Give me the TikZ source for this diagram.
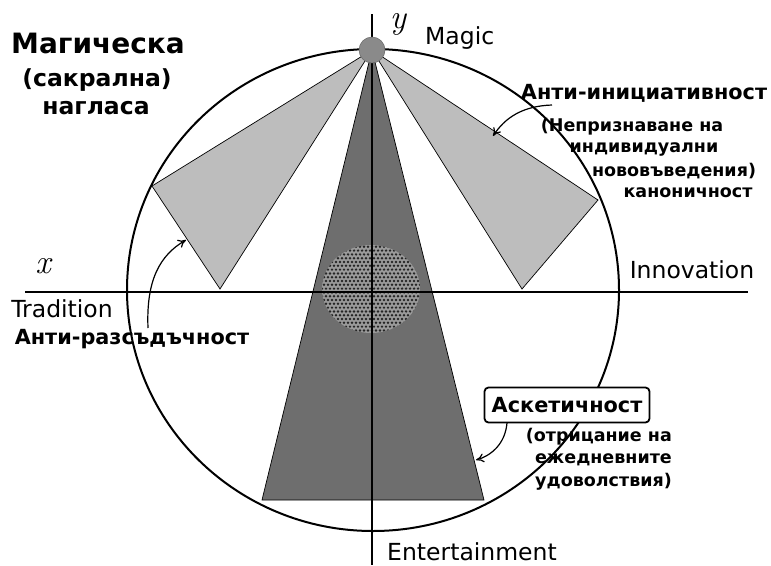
\documentclass[tikz,border=0pt]{standalone}
\usepackage{fontspec}
\setmainfont{DejaVu Sans}
\newfontfamily\lmfont{Latin Modern Roman}
\usetikzlibrary{arrows.meta}
\definecolor{darkg}{HTML}{6E6E6E}
\definecolor{lightg}{HTML}{BDBDBD}
\definecolor{dotg}{HTML}{8A8A8A}
\definecolor{coreg}{HTML}{9A9A9A}
\begin{document}
\begin{tikzpicture}[x=1pt,y=-1pt,
  reg/.style={inner sep=0pt, font=\fontsize{23.5}{27}\selectfont},
  bld/.style={inner sep=0pt, font=\fontsize{17.5}{20}\selectfont\bfseries},
  bldbig/.style={inner sep=0pt, font=\fontsize{20.8}{24}\selectfont\bfseries},
  ttlbig/.style={inner sep=0pt, font=\fontsize{28}{32}\selectfont\bfseries},
  ttl/.style={inner sep=0pt, font=\fontsize{23.5}{27}\selectfont\bfseries},
  tri/.style={draw=black, line width=0.7pt},
  axisline/.style={line width=2.6pt},
  arr/.style={-{To[length=8pt,width=9pt]}, line width=1.2pt},
  varlab/.style={inner sep=0pt, font=\lmfont\itshape\fontsize{34}{38}\selectfont}]
\useasboundingbox (0,0) rectangle (771,565);
\fill[white] (0,0) rectangle (771,565);
% key points
\coordinate (A) at (372,50);
\coordinate (L1) at (152,186);
\coordinate (L2) at (220,289);
\coordinate (R1) at (598,200);
\coordinate (R2) at (522,289);
\coordinate (D1) at (262,500);
\coordinate (D2) at (484,500);
\coordinate (O) at (373,290);
% triangles
\draw[tri, fill=lightg] (A) -- (L1) -- (L2) -- cycle;
\draw[tri, fill=lightg] (A) -- (R1) -- (R2) -- cycle;
\draw[tri, fill=darkg] (A) -- (D1) -- (D2) -- cycle;
% dotted core
\begin{scope}
  \clip (371,289) ellipse [x radius=49, y radius=44];
  \fill[coreg] (320,243) rectangle (422,335);
  \foreach \r in {0,...,24} {
    \foreach \c in {0,...,26} {
      \fill[black!85] ({318+\c*4+mod(\r,2)*2},{243+\r*3.8}) circle [radius=1.35];
    }
  }
\end{scope}
% big circle
\draw[line width=2pt] (O) ellipse [x radius=246, y radius=241];
% axes
\coordinate (xl) at (25,292);
\coordinate (xr) at (748,292);
\coordinate (yt) at (372,14);
\coordinate (yb) at (372,565);
\draw[axisline] (xl) -- (xr);
\draw[axisline] (yt) -- (yb);
% apex dot
\fill[dotg, draw=black!60, line width=0.5pt] (A) circle [radius=13];
% title
\node[ttlbig] (t1) at (98,43) {Магическа};
\node[ttl] (t2) at (97,80) {(сакрална)};
\node[ttl] (t3) at (96,108) {нагласа};
% axis labels
\node[varlab] (ylab) at (398,24) {y};
\node[varlab] (xlab) at (43,266) {x};
\node[reg, anchor=west] (magic) at (425,38) {Magic};
\node[reg] (innov) at (692,270) {Innovation};
\node[reg] (trad) at (62,309) {Tradition};
\node[reg] (ent) at (472,552) {Entertainment};
% right upper labels
\node[bldbig] (ai) at (644,93) {Анти-инициативност};
\node[bld] (nep) at (632,127) {(Непризнаване на};
\node[bld] (ind) at (644,149) {индивидуални};
\node[bld] (nov) at (674,171) {нововъведения)};
\node[bld] (kan) at (688,193) {каноничност};
% left lower label
\node[bldbig] (ar) at (132,339) {Анти-разсъдъчност};
% asceticism
\node[bldbig, draw=black, line width=1.8pt, fill=white, rounded corners=4pt,
      minimum width=165pt, minimum height=35pt] (ask) at (567,405) {Аскетичност};
\node[bld, anchor=east] (otr) at (672,437) {(отрицание на};
\node[bld, anchor=east] (ezh) at (672,460) {ежедневните};
\node[bld, anchor=east] (udo) at (672,482) {удоволствия)};
% arrows
\coordinate (sR) at (552,105);
\coordinate (tR) at (493,136);
\coordinate (sL) at (148,328);
\coordinate (tL) at (186,240);
\coordinate (sD) at (507,423);
\coordinate (tD) at (476,460);
\draw[arr] (sR) .. controls (522,106) and (505,118) .. (tR);
\draw[arr] (sL) .. controls (146,280) and (160,255) .. (tL);
\draw[arr] (sD) .. controls (505,445) and (490,456) .. (tD);
\end{tikzpicture}
\end{document}
